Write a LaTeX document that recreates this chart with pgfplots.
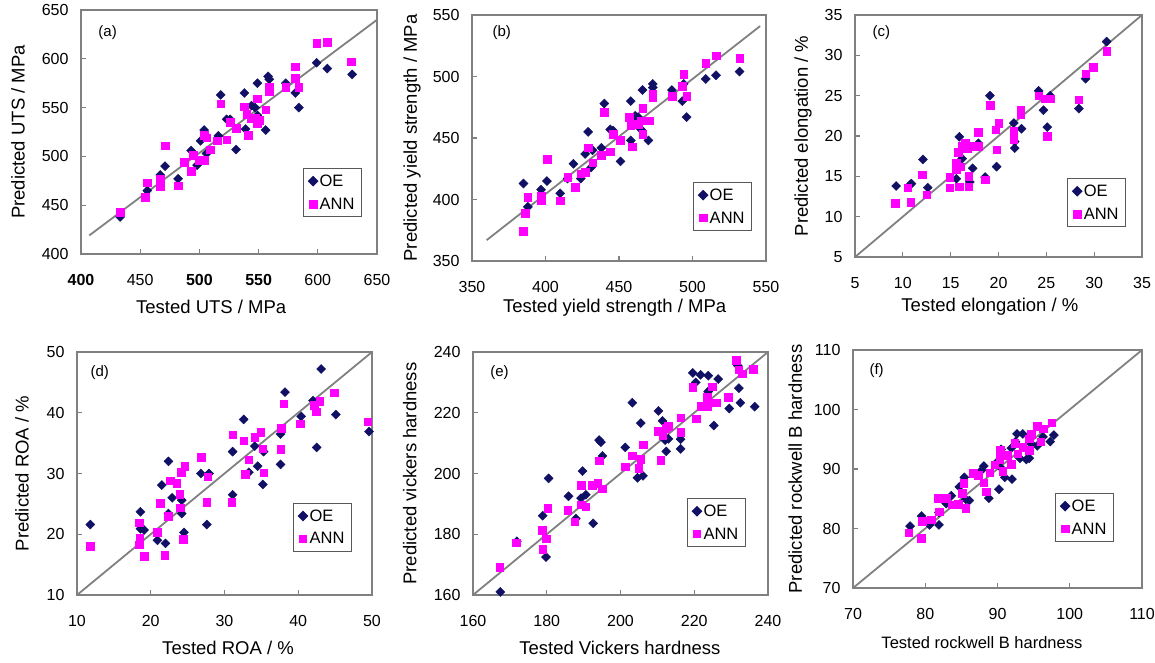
\documentclass[border=0pt]{standalone}
\usepackage{fontspec}
\setmainfont{Liberation Sans}
\usepackage{pgfplots}
\pgfplotsset{compat=1.18}

\definecolor{oeblue}{RGB}{16,16,100}
\definecolor{annpink}{RGB}{255,0,255}
\definecolor{framegray}{RGB}{128,128,128}

\tikzset{tag/.style={anchor=west, font=\fontsize{15}{18}\selectfont}}
\pgfplotsset{
  panel/.style={
    scale only axis, anchor=south west,
    axis line style={draw=framegray, line width=1.6pt},
    tick style={draw=framegray, line width=1.2pt},
    tick align=inside, tick pos=left, major tick length=5pt,
    tick label style={font=\fontsize{16}{19}\selectfont},
    xticklabel style={yshift=-26pt, anchor=center},
    yticklabel style={xshift=-9pt},
    label style={font=\fontsize{18.5}{22}\selectfont},
    /pgf/number format/assume math mode=true,
    legend style={draw=gray!70!black, line width=1.2pt,
      font=\fontsize{16.5}{20}\selectfont, anchor=north west,
      inner xsep=5pt, inner ysep=4pt, row sep=6pt, legend cell align=left},
  },
  oe/.style={only marks, mark=square*, mark options={rotate=45}, mark size=3.2pt, color=oeblue},
  ann/.style={only marks, mark=square*, mark size=3.8pt, color=annpink},
  diag/.style={no marks, draw=gray, line width=1.8pt, forget plot},
}

\begin{document}
\begin{tikzpicture}
\path[use as bounding box] (0,0) rectangle (1155pt,662pt);

% (a) UTS
\begin{axis}[panel, at={(81pt,408pt)}, width=296pt, height=244pt,
  xmin=400, xmax=650, ymin=400, ymax=650,
  xtick={400,450,...,650}, ytick={400,450,...,650},
  xticklabels={\textbf{400},450,\textbf{500},\textbf{550},600,650},
  xlabel={Tested UTS / MPa}, ylabel={Predicted UTS / MPa},
  xlabel style={at={(axis description cs:0.44,-0.217)}, anchor=center},
  ylabel style={at={(axis description cs:-0.213,0.5)}, anchor=center},
  legend style={at={(axis description cs:0.75,0.352)}}]
\addplot[diag] coordinates {(407,419) (650,640)};
\addplot[oe] coordinates {
(433,438) (456,465) (467,481) (471,490) (482,477) (493,506) (498,491)
(501,516) (504,527) (506,503) (516,521) (518,563) (523,538) (526,538)
(531,507) (538,565) (539,528) (544,552) (547,550) (549,575) (549,542)
(556,527) (558,582) (559,579) (573,575) (581,565) (584,550) (599,596)
(608,590) (629,584)};
\addplot[ann] coordinates {
(433,443) (454,458) (456,473) (467,477) (467,469) (471,511) (482,470)
(487,494) (493,485) (495,501) (500,496) (504,496) (504,522) (506,519)
(509,507) (515,516) (518,554) (523,517) (526,535) (531,529) (538,551)
(540,543) (541,522) (544,539) (547,539) (549,559) (549,534) (551,537)
(556,548) (559,571) (559,567) (573,571) (581,580) (581,592) (584,571)
(599,616) (608,617) (628,597)};
\legend{OE,ANN}
\node[tag] at (axis description cs:0.047,0.906) {(a)};
\end{axis}

% (b) yield strength
\begin{axis}[panel, at={(472pt,401pt)}, width=294pt, height=246pt,
  xmin=350, xmax=550, ymin=350, ymax=550,
  xtick={350,400,...,550}, ytick={350,400,...,550},
  xlabel={Tested yield strength / MPa}, ylabel={Predicted yield strength / MPa},
  xlabel style={at={(axis description cs:0.485,-0.19)}, anchor=center},
  ylabel style={at={(axis description cs:-0.204,0.5)}, anchor=center},
  legend style={at={(axis description cs:0.752,0.321)}}]
\addplot[diag] coordinates {(360,367) (546,541)};
\addplot[oe] coordinates {
(385,413) (388,394) (397,408) (401,415) (410,405) (415,417) (419,429)
(424,417) (427,437) (429,455) (431,426) (432,440) (438,442) (440,478)
(444,457) (446,456) (451,431) (458,480) (458,448) (459,464) (461,468)
(463,467) (465,457) (466,489) (470,448) (473,494) (473,491) (486,489)
(493,480) (494,494) (496,467) (509,498) (516,501) (532,504)};
\addplot[ann] coordinates {
(385,374) (386,389) (388,402) (397,399) (397,403) (401,433) (410,399)
(415,418) (420,410) (424,421) (427,422) (429,442) (432,430) (438,436)
(440,471) (444,439) (446,453) (451,448) (457,467) (458,460) (459,443)
(463,461) (465,464) (466,453) (466,474) (471,464) (473,483) (473,486)
(486,484) (494,502) (493,492) (496,484) (509,511) (516,517) (532,515)};
\legend{OE,ANN}
\node[tag] at (axis description cs:0.058,0.927) {(b)};
\end{axis}

% (c) elongation
\begin{axis}[panel, at={(855pt,405pt)}, width=287pt, height=242pt,
  xmin=5, xmax=35, ymin=5, ymax=35,
  xtick={5,10,...,35}, ytick={5,10,...,35},
  xlabel={Tested elongation / \%}, ylabel={Predicted elongation / \%},
  xlabel style={at={(axis description cs:0.47,-0.207)}, anchor=center},
  ylabel style={at={(axis description cs:-0.181,0.5)}, anchor=center},
  legend style={at={(axis description cs:0.739,0.326)}}]
\addplot[diag] coordinates {(5,5) (35,35)};
\addplot[oe] coordinates {
(9.3,13.8) (10.8,14.0) (10.9,14.1) (12.1,17.1) (12.6,13.6) (15.6,14.7)
(15.9,19.9) (16.2,17.2) (17.0,14.3) (17.3,16.0) (17.9,19.1) (18.6,14.9)
(19.1,25.0) (19.8,16.2) (21.6,21.6) (21.7,19.3) (21.7,18.5) (22.4,20.9)
(24.2,25.6) (24.7,23.2) (25.1,21.1) (25.4,25.0) (28.4,23.4) (29.1,27.1)
(31.3,31.7)};
\addplot[ann] coordinates {
(9.2,11.7) (10.5,13.6) (10.8,11.8) (12.0,15.2) (12.5,12.7) (14.9,14.9)
(14.9,13.6) (15.6,16.6) (15.6,15.8) (15.8,18.0) (15.9,13.7) (16.0,16.2)
(16.2,18.7) (16.5,19.1) (16.7,18.5) (16.9,15.0) (16.9,13.7) (17.0,18.8)
(17.4,18.7) (17.9,18.7) (17.9,20.5) (18.6,14.6) (19.1,23.8) (19.7,20.8)
(19.8,18.3) (20.0,21.6) (21.6,20.6) (21.6,20.2) (21.6,19.6) (22.3,23.2)
(22.3,22.7) (24.2,25.0) (24.9,24.6) (25.4,24.6) (25.1,20.0) (28.4,24.5)
(29.1,27.7) (29.9,28.5) (31.3,30.5)};
\legend{OE,ANN}
\node[tag] at (axis description cs:0.049,0.926) {(c)};
\end{axis}

% (d) ROA
\begin{axis}[panel, at={(77pt,67pt)}, width=295pt, height=243pt,
  xmin=10, xmax=50, ymin=10, ymax=50,
  xtick={10,20,...,50}, ytick={10,20,...,50},
  xlabel={Tested ROA / \%}, ylabel={Predicted ROA / \%},
  xlabel style={at={(axis description cs:0.512,-0.218)}, anchor=center},
  ylabel style={at={(axis description cs:-0.186,0.5)}, anchor=center},
  legend style={at={(axis description cs:0.732,0.379)}}]
\addplot[diag] coordinates {(10,10) (50,50)};
\addplot[oe] coordinates {
(11.8,21.6) (18.6,23.7) (18.6,20.9) (19.1,20.7) (20.9,19.0) (22.0,18.5)
(21.5,28.1) (22.4,32.0) (22.9,26.0) (22.4,23.4) (24.2,25.6) (24.2,23.4)
(24.5,20.3) (26.8,30.0) (27.9,30.0) (27.6,21.6) (31.1,33.6) (31.1,26.5)
(32.6,38.9) (33.3,30.2) (34.1,34.5) (34.5,31.2) (35.2,28.2) (35.3,33.6)
(37.6,36.5) (37.6,31.5) (38.2,43.4) (40.4,39.4) (42.0,42.0) (42.5,34.3)
(43.1,47.2) (45.1,39.7) (49.6,36.9)};
\addplot[ann] coordinates {
(11.8,18.0) (18.4,21.9) (18.5,19.4) (18.4,18.3) (19.1,16.4) (20.9,20.3)
(21.3,25.1) (21.9,16.6) (22.4,23.0) (22.6,28.8) (23.5,28.4) (23.9,26.6)
(24.0,24.4) (24.1,30.2) (24.6,31.2) (24.4,19.2) (26.8,32.7) (27.7,29.5)
(27.6,25.3) (31.0,25.3) (31.1,36.4) (32.6,35.4) (32.8,29.9) (33.3,32.3)
(34.1,36.0) (34.9,36.8) (35.2,34.1) (35.3,30.1) (37.6,34.0) (37.7,37.5)
(38.0,41.5) (40.3,38.2) (42.2,41.2) (42.4,40.2) (42.9,41.9) (44.9,43.3)
(49.4,38.5)};
\legend{OE,ANN}
\node[tag] at (axis description cs:0.034,0.914) {(d)};
\end{axis}

% (e) Vickers hardness
\begin{axis}[panel, at={(473pt,67pt)}, width=295pt, height=243pt,
  xmin=160, xmax=240, ymin=160, ymax=240,
  xtick={160,180,...,240}, ytick={160,180,...,240},
  xlabel={Tested Vickers hardness}, ylabel={Predicted vickers hardness},
  xlabel style={at={(axis description cs:0.498,-0.218)}, anchor=center},
  ylabel style={at={(axis description cs:-0.214,0.5)}, anchor=center},
  legend style={at={(axis description cs:0.725,0.399)}}]
\addplot[diag] coordinates {(160,160) (240,240)};
\addplot[oe] coordinates {
(167.4,161.0) (171.9,177.7) (178.9,186.1) (179.8,172.5) (180.5,198.4)
(185.9,192.5) (187.9,185.2) (189.3,191.9) (189.7,200.8) (190.6,193.0)
(192.6,183.6) (194.2,211.0) (194.7,210.3) (195.1,205.8) (201.3,208.6)
(203.2,223.3) (204.6,198.6) (206.1,199.2) (205.5,216.6) (210.3,220.6)
(211.4,217.3) (212.1,211.0) (212.4,207.3) (213.0,211.4) (216.3,211.3)
(216.3,208.1) (219.6,233.1) (220.4,230.0) (221.7,232.5) (223.8,232.2)
(223.8,227.0) (225.3,215.8) (226.5,231.1) (229.5,221.4) (232.1,228.1)
(231.8,235.5) (232.5,223.3) (236.4,222.0)};
\addplot[ann] coordinates {
(167.2,169.1) (171.7,177.2) (178.7,181.4) (178.9,175.0) (179.8,178.6)
(180.3,188.6) (185.7,188.0) (187.6,184.1) (189.3,196.2) (189.3,189.7)
(190.6,189.1) (192.4,196.2) (193.8,196.9) (194.2,204.2) (195.1,195.0)
(201.3,202.2) (203.2,205.8) (204.9,201.7) (205.5,204.7) (206.1,209.5)
(210.3,214.0) (210.9,204.4) (211.4,212.5) (212.3,215.0) (213.0,215.5)
(216.3,213.6) (216.3,218.4) (219.6,228.4) (220.5,218.1) (221.7,222.2)
(223.5,222.2) (223.5,225.1) (224.9,228.6) (226.0,223.3) (229.2,225.1)
(231.4,237.3) (232.1,234.2) (233.0,232.9) (236.0,234.4)};
\legend{OE,ANN}
\node[tag] at (axis description cs:0.047,0.914) {(e)};
\end{axis}

% (f) Rockwell B hardness
\begin{axis}[panel, at={(853pt,74pt)}, width=289pt, height=238pt,
  xmin=70, xmax=110, ymin=70, ymax=110,
  xtick={70,80,...,110}, ytick={70,80,...,110},
  xlabel={Tested rockwell B hardness}, ylabel={Predicted rockwell B hardness},
  xlabel style={at={(axis description cs:0.446,-0.231)}, anchor=center,
    font=\fontsize{16.5}{20}\selectfont},
  ylabel style={at={(axis description cs:-0.2,0.5)}, anchor=center},
  legend style={at={(axis description cs:0.699,0.399)}}]
\addplot[diag] coordinates {(70,70) (110,110)};
\addplot[oe] coordinates {
(77.9,80.4) (79.5,82.1) (80.6,80.6) (81.9,80.6) (81.9,82.7) (83.6,85.5)
(85.4,88.6) (85.6,84.9) (86.1,84.7) (88.1,90.5) (88.8,85.1) (90.2,86.6)
(90.4,90.3) (90.5,93.3) (91.0,88.6) (91.9,93.5) (92.0,88.3) (92.5,94.6)
(92.7,95.9) (93.1,91.8) (93.5,95.9) (94.0,91.6) (94.4,91.8) (94.7,94.2)
(95.5,93.9) (96.3,95.4) (97.3,94.6) (97.8,95.7) (87.8,89.8) (84.7,87.0)
(82.9,84.2) (89.8,91.0)};
\addplot[ann] coordinates {
(77.7,79.3) (79.4,78.4) (79.6,81.2) (80.8,81.5) (81.9,82.8) (81.8,85.1)
(82.9,85.1) (83.7,84.0) (84.6,84.1) (85.1,85.9) (85.6,83.4) (85.3,87.6)
(86.6,89.3) (87.3,89.0) (88.1,87.7) (88.4,86.2) (88.9,89.4) (89.6,90.7)
(90.3,91.6) (90.7,89.6) (91.3,92.3) (91.9,90.8) (92.4,94.3) (92.8,92.6)
(93.5,93.7) (94.4,95.1) (94.7,95.9) (95.5,97.2) (96.0,94.6) (96.3,96.8)
(97.5,97.8) (94.4,93.2) (90.4,93.2)};
\legend{OE,ANN}
\node[tag] at (axis description cs:0.045,0.912) {(f)};
\end{axis}
\end{tikzpicture}
\end{document}
